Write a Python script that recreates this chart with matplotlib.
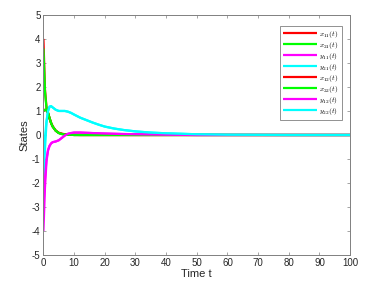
import matplotlib
matplotlib.use("Agg")
import matplotlib.pyplot as plt

plt.rcParams['font.family'] = ['Liberation Sans', 'DejaVu Sans']
plt.rcParams['axes.unicode_minus'] = False
plt.rcParams['mathtext.fontset'] = 'cm'

# time samples
t = [0, 0.5, 1, 1.5, 2, 2.5, 3, 4, 5, 6, 7, 8, 9, 10, 12, 14, 16, 18, 20,
     23, 26, 30, 35, 40, 45, 50, 60, 70, 80, 90, 100]

x11 = [4.0, 1.9, 1.15, 0.9, 0.68, 0.5, 0.36, 0.18, 0.09, 0.05, 0.03, 0.02, 0.01, 0.01,
       0, 0, 0, 0, 0, 0, 0, 0, 0, 0, 0, 0, 0, 0, 0, 0, 0]
x21 = [3.6, 1.8, 1.12, 0.92, 0.7, 0.5, 0.35, 0.18, 0.08, 0.04, 0.02, 0.01, 0.01, 0.0,
       0, 0, 0, 0, 0, 0, 0, 0, 0, 0, 0, 0, 0, 0, 0, 0, 0]
y11 = [-4.0, -2.2, -1.1, -0.65, -0.45, -0.35, -0.3, -0.27, -0.22, -0.12, -0.02, 0.05,
       0.08, 0.1, 0.1, 0.09, 0.08, 0.07, 0.06, 0.05, 0.04, 0.03, 0.02, 0.01, 0.005,
       0, 0, 0, 0, 0, 0]
y21 = [-2.0, -0.6, 0.5, 1.0, 1.18, 1.2, 1.15, 1.05, 1.0, 1.0, 1.0, 0.97, 0.92, 0.85,
       0.72, 0.62, 0.52, 0.43, 0.35, 0.27, 0.21, 0.15, 0.1, 0.07, 0.05, 0.03, 0.01,
       0.005, 0, 0, 0]
x12 = [1.0, 1.05, 1.05, 0.92, 0.7, 0.5, 0.36, 0.18, 0.09, 0.05, 0.03, 0.02, 0.01, 0.0,
       0, 0, 0, 0, 0, 0, 0, 0, 0, 0, 0, 0, 0, 0, 0, 0, 0]
x22 = [1.0, 1.05, 1.05, 0.92, 0.7, 0.5, 0.35, 0.18, 0.08, 0.04, 0.02, 0.01, 0.01, 0.0,
       0, 0, 0, 0, 0, 0, 0, 0, 0, 0, 0, 0, 0, 0, 0, 0, 0]
y12 = [-3.0, -1.8, -1.0, -0.62, -0.45, -0.35, -0.3, -0.27, -0.22, -0.12, -0.02, 0.05,
       0.08, 0.1, 0.1, 0.09, 0.08, 0.07, 0.06, 0.05, 0.04, 0.03, 0.02, 0.01, 0.005,
       0, 0, 0, 0, 0, 0]
y22 = [-1.0, -0.1, 0.6, 1.0, 1.18, 1.2, 1.15, 1.05, 1.0, 1.0, 1.0, 0.97, 0.92, 0.85,
       0.72, 0.62, 0.52, 0.43, 0.35, 0.27, 0.21, 0.15, 0.1, 0.07, 0.05, 0.03, 0.01,
       0.005, 0, 0, 0]

red, green, mag, cyan = '#ff0000', '#00ff00', '#ff00ff', '#00ffff'
series = [(x11, red, r'$x_{11}(t)$'), (x21, green, r'$x_{21}(t)$'),
          (y11, mag, r'$y_{11}(t)$'), (y21, cyan, r'$y_{21}(t)$'),
          (x12, red, r'$x_{12}(t)$'), (x22, green, r'$x_{22}(t)$'),
          (y12, mag, r'$y_{12}(t)$'), (y22, cyan, r'$y_{22}(t)$')]

fig = plt.figure(figsize=(3.81, 2.86), dpi=100)
ax = fig.add_axes([0.114, 0.108, 0.805, 0.84])

for vals, col, lab in series:
    ax.plot(t, vals, color=col, linewidth=1.6, label=lab, solid_capstyle='butt')

axcol = '#808080'
ax.set_xlim(0, 100)
ax.set_ylim(-5, 5)
ax.set_xticks(range(0, 101, 10))
ax.set_yticks(range(-5, 6))
ax.tick_params(direction='in', length=2.5, width=0.5, labelsize=7, color=axcol,
               labelcolor='#262626', top=True, right=True, pad=2)
for s in ax.spines.values():
    s.set_linewidth(0.7)
    s.set_color(axcol)
ax.set_xlabel('Time t', fontsize=8, labelpad=1, color='#262626')
ax.set_ylabel('States', fontsize=8, labelpad=2, color='#262626')

leg = ax.legend(loc='upper right', fontsize=5.3, handlelength=4.6, handleheight=0.5,
                handletextpad=0.4, labelspacing=0.0, borderpad=0.4, fancybox=False,
                framealpha=1, edgecolor=axcol, bbox_to_anchor=(0.985, 0.97))
leg.get_frame().set_linewidth(0.6)

fig.savefig('out.png', dpi=100)
